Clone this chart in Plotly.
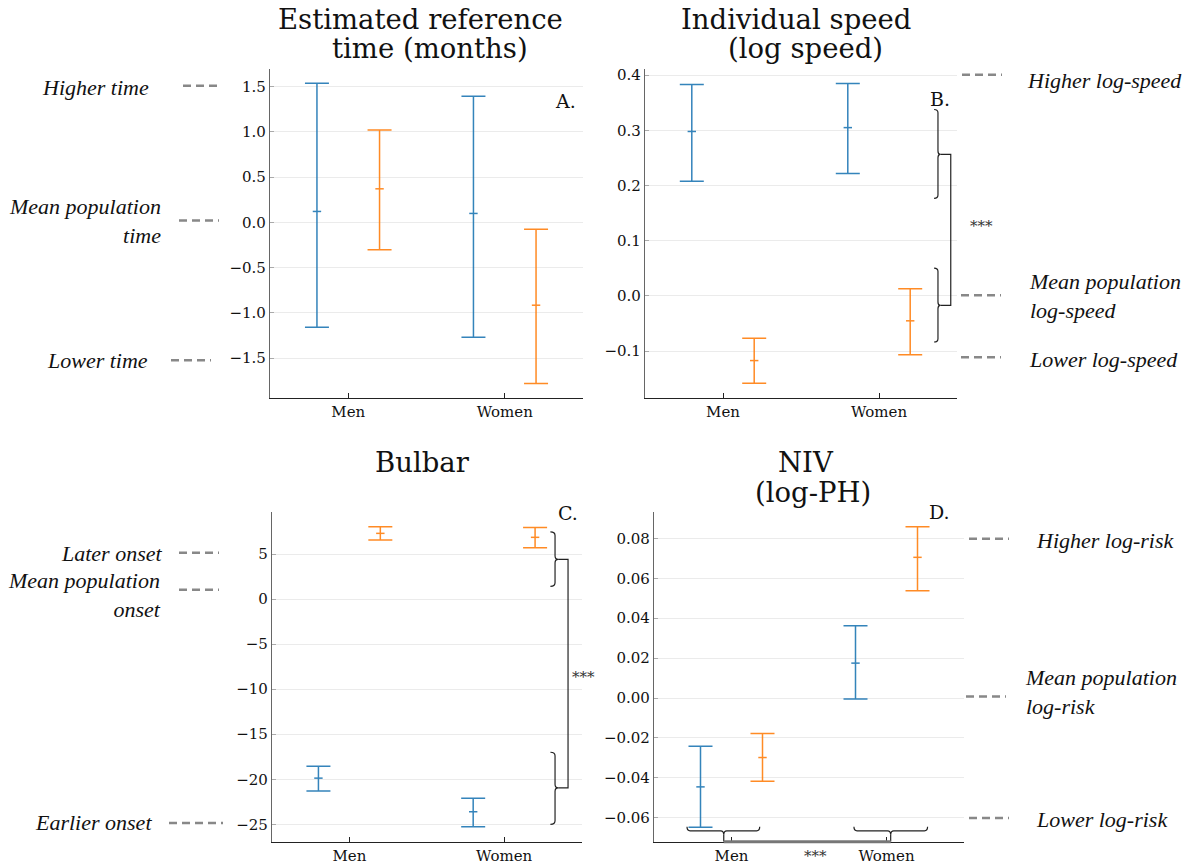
import plotly.graph_objects as go

W, H = 1189, 868

# ---------------- data ----------------
groups = ["Men", "Women"]

# Panel A: Estimated reference time (months)
a_blue_low = [-1.158, -1.268]
a_blue_mid = [0.121, 0.099]
a_blue_high = [1.537, 1.393]
a_orange_low = [-0.301, -1.779]
a_orange_mid = [0.371, -0.915]
a_orange_high = [1.022, -0.077]

# Panel B: Individual speed (log speed)
b_blue_low = [0.208, 0.222]
b_blue_mid = [0.298, 0.305]
b_blue_high = [0.383, 0.385]
b_orange_low = [-0.158, -0.1066]
b_orange_mid = [-0.117, -0.045]
b_orange_high = [-0.0765, 0.0133]

# Panel C: Bulbar
c_blue_low = [-21.3, -25.26]
c_blue_mid = [-19.87, -23.6]
c_blue_high = [-18.54, -22.1]
c_orange_low = [6.55, 5.7]
c_orange_mid = [7.29, 6.85]
c_orange_high = [8.03, 7.95]

# Panel D: NIV (log-PH)
d_blue_low = [-0.0647, -0.0005]
d_blue_mid = [-0.0445, 0.0175]
d_blue_high = [-0.0242, 0.0362]
d_orange_low = [-0.0417, 0.0537]
d_orange_mid = [-0.0298, 0.0705]
d_orange_high = [-0.0177, 0.0858]

a_ticks = [-1.5, -1.0, -0.5, 0.0, 0.5, 1.0, 1.5]
b_ticks = [-0.1, 0.0, 0.1, 0.2, 0.3, 0.4]
c_ticks = [-25, -20, -15, -10, -5, 0, 5]
d_ticks = [-0.06, -0.04, -0.02, 0.0, 0.02, 0.04, 0.06, 0.08]

BLUE = "#1f77b4"
ORANGE = "#ff7f0e"
SERIF = "DejaVu Serif"
ITAL = "Liberation Serif"


def px(x):
    return x / W


def py(y):
    return 1 - y / H


panels = [
    dict(xa="x", ya="y", xd=[px(270), px(583)], yd=[py(396.7), py(66.7)],
         yr=[-1.938, 1.70], ticks=a_ticks, fmt=".1f",
         blue=(a_blue_low, a_blue_mid, a_blue_high),
         orange=(a_orange_low, a_orange_mid, a_orange_high)),
    dict(xa="x2", ya="y2", xd=[px(645), px(957)], yd=[py(396.7), py(66.7)],
         yr=[-0.1844, 0.412], ticks=b_ticks, fmt=".1f",
         blue=(b_blue_low, b_blue_mid, b_blue_high),
         orange=(b_orange_low, b_orange_mid, b_orange_high)),
    dict(xa="x3", ya="y3", xd=[px(272), px(581.5)], yd=[py(841.7), py(511)],
         yr=[-26.93, 9.68], ticks=c_ticks, fmt="d",
         blue=(c_blue_low, c_blue_mid, c_blue_high),
         orange=(c_orange_low, c_orange_mid, c_orange_high)),
    dict(xa="x4", ya="y4", xd=[px(654), px(964)], yd=[py(841.7), py(511)],
         yr=[-0.072, 0.0933], ticks=d_ticks, fmt=".2f",
         blue=(d_blue_low, d_blue_mid, d_blue_high),
         orange=(d_orange_low, d_orange_mid, d_orange_high)),
]

fig = go.Figure()
layout = dict(width=W, height=H, margin=dict(l=0, r=0, t=0, b=0),
              plot_bgcolor="white", paper_bgcolor="white", showlegend=False)

for p in panels:
    for (low, mid, high), color, off in ((p["blue"], BLUE, -0.2), (p["orange"], ORANGE, 0.2)):
        fig.add_trace(go.Scatter(
            x=[i + off for i in range(len(groups))], y=mid,
            mode="markers",
            marker=dict(symbol="line-ew", size=6, color=color,
                        line=dict(width=1.5, color=color)),
            error_y=dict(type="data", symmetric=False,
                         array=[h - m for h, m in zip(high, mid)],
                         arrayminus=[m - l for m, l in zip(mid, low)],
                         color=color, thickness=1.5, width=12),
            opacity=0.9,
            xaxis=p["xa"], yaxis=p["ya"], hoverinfo="skip"))
    xk = "xaxis" + p["xa"][1:]
    yk = "yaxis" + p["ya"][1:]
    layout[xk] = dict(domain=p["xd"], range=[-0.5, 1.5], anchor=p["ya"],
                      tickvals=list(range(len(groups))), ticktext=groups,
                      ticks="inside", ticklen=5, tickcolor="#222",
                      showline=True, linecolor="#222", linewidth=1.3,
                      showgrid=False, zeroline=False,
                      tickfont=dict(family=SERIF, size=15, color="#111"))
    layout[yk] = dict(domain=p["yd"], range=p["yr"], anchor=p["xa"],
                      tickvals=p["ticks"], tickformat=p["fmt"],
                      ticks="inside", ticklen=4, tickcolor="#aaa",
                      showline=True, linecolor="#666", linewidth=1.3,
                      showgrid=True, gridcolor="#ebebeb", gridwidth=1,
                      zeroline=False,
                      tickfont=dict(family=SERIF, size=15, color="#111"))

fig.update_layout(**layout)

ann = []


def text(x, y, s, size, family=SERIF, xanchor="center", align="center", color="#111"):
    ann.append(dict(x=px(x), y=py(y), xref="paper", yref="paper", text=s,
                    showarrow=False, xanchor=xanchor, yanchor="middle", align=align,
                    font=dict(family=family, size=size, color=color)))


# titles
text(420, 17, "Estimated reference", 27.5)
text(430, 46, "time (months)", 27.5)
text(796, 17, "Individual speed", 27.5)
text(805, 46, "(log speed)", 27.5)
text(422, 461, "Bulbar", 27.5)
text(806, 461, "NIV", 27.5)
text(813, 491, "(log-PH)", 27.5)

# panel letters
text(565, 99, "A.", 19)
text(940, 97, "B.", 19)
text(568, 512, "C.", 19)
text(939, 511, "D.", 19)

# side labels
text(151, 86, "<i>Higher time</i>", 22, ITAL, "right", "right")
text(163, 220, "<i>Mean population<br>time</i>", 22, ITAL, "right", "right")
text(150, 359, "<i>Lower time</i>", 22, ITAL, "right", "right")
text(165, 553, "<i>Later onset</i>", 22, ITAL, "right", "right")
text(163, 594, "<i>Mean population<br>onset</i>", 22, ITAL, "right", "right")
text(154, 822, "<i>Earlier onset</i>", 22, ITAL, "right", "right")
text(1025, 79, "<i>Higher log-speed</i>", 22, ITAL, "left", "left")
text(1027, 295, "<i>Mean population<br>log-speed</i>", 22, ITAL, "left", "left")
text(1027, 358, "<i>Lower log-speed</i>", 22, ITAL, "left", "left")
text(1034, 540, "<i>Higher log-risk</i>", 22, ITAL, "left", "left")
text(1023, 692, "<i>Mean population<br>log-risk</i>", 22, ITAL, "left", "left")
text(1034, 819, "<i>Lower log-risk</i>", 22, ITAL, "left", "left")

# significance stars
text(981, 225, "***", 15, color="#333")
text(583, 677, "***", 15, color="#333")
text(815, 856, "***", 15, color="#333")

fig.update_layout(annotations=ann)

shapes = []
# dashed reference markers
dashes = [(183, 222, 84), (179, 219, 219), (171, 211, 359),
          (179, 219, 552), (179, 219, 589), (169, 223, 823),
          (962, 1002, 73), (961, 1001, 294), (961, 1001, 356),
          (969, 1009, 538), (966, 1006, 696), (969, 1009, 818)]
for x0, x1, y in dashes:
    shapes.append(dict(type="line", xref="paper", yref="paper",
                       x0=px(x0), x1=px(x1), y0=py(y), y1=py(y),
                       line=dict(color="#888", width=2.5, dash="8px,5px")))


def vbrace(xa, ya, x, hook, tip, y0, y1, ym, r):
    path = (f"M {x-hook},{y1} Q {x},{y1} {x},{y1-r} L {x},{ym+r} "
            f"Q {x},{ym} {x+tip},{ym} Q {x},{ym} {x},{ym-r} "
            f"L {x},{y0+r} Q {x},{y0} {x-hook},{y0}")
    shapes.append(dict(type="path", xref=xa, yref=ya, path=path,
                       line=dict(color="#222", width=1.2)))


def hbrace(xa, ya, x0, x1, xm, y, hook, tip, r):
    path = (f"M {x0},{y+hook} Q {x0},{y} {x0+r},{y} L {xm-r},{y} "
            f"Q {xm},{y} {xm},{y-tip} Q {xm},{y} {xm+r},{y} "
            f"L {x1-r},{y} Q {x1},{y} {x1},{y+hook}")
    shapes.append(dict(type="path", xref=xa, yref=ya, path=path,
                       line=dict(color="#222", width=1.2)))


def connector(xa, ya, xt, xc, ym1, ym2):
    path = f"M {xt},{ym1} L {xc},{ym1} L {xc},{ym2} L {xt},{ym2}"
    shapes.append(dict(type="path", xref=xa, yref=ya, path=path,
                       line=dict(color="#222", width=1.2)))


# Panel B braces
vbrace("x2", "y2", 1.378, 0.025, 0.015, 0.177, 0.3378, 0.2565, 0.006)
vbrace("x2", "y2", 1.378, 0.025, 0.015, -0.0833, 0.0505, -0.017, 0.006)
connector("x2", "y2", 1.393, 1.46, 0.2565, -0.017)

# Panel C braces
vbrace("x3", "y3", 1.329, 0.03, 0.02, 1.4, 7.45, 4.4, 0.4)
vbrace("x3", "y3", 1.329, 0.03, 0.02, -25.0, -17.0, -20.95, 0.4)
connector("x3", "y3", 1.349, 1.413, 4.4, -20.95)

# Panel D braces
hbrace("x4", "y4", -0.287, 0.182, -0.05, -0.0665, 0.002, 0.002, 0.02)
hbrace("x4", "y4", 0.79, 1.265, 1.027, -0.0665, 0.002, 0.002, 0.02)
for xm in (-0.05, 1.027):
    shapes.append(dict(type="line", xref="x4", yref="y4", x0=xm, x1=xm,
                       y0=-0.0685, y1=-0.072, line=dict(color="#222", width=1.2)))
shapes.append(dict(type="line", xref="x4", yref="y4 domain", x0=-0.05, x1=1.027,
                   y0=0, y1=0, line=dict(color="#777", width=3)))

fig.update_layout(shapes=shapes)

fig.write_html("out.html",
               config={"displayModeBar": False},
               post_script="document.body.style.margin='0';document.body.style.overflow='hidden';")
